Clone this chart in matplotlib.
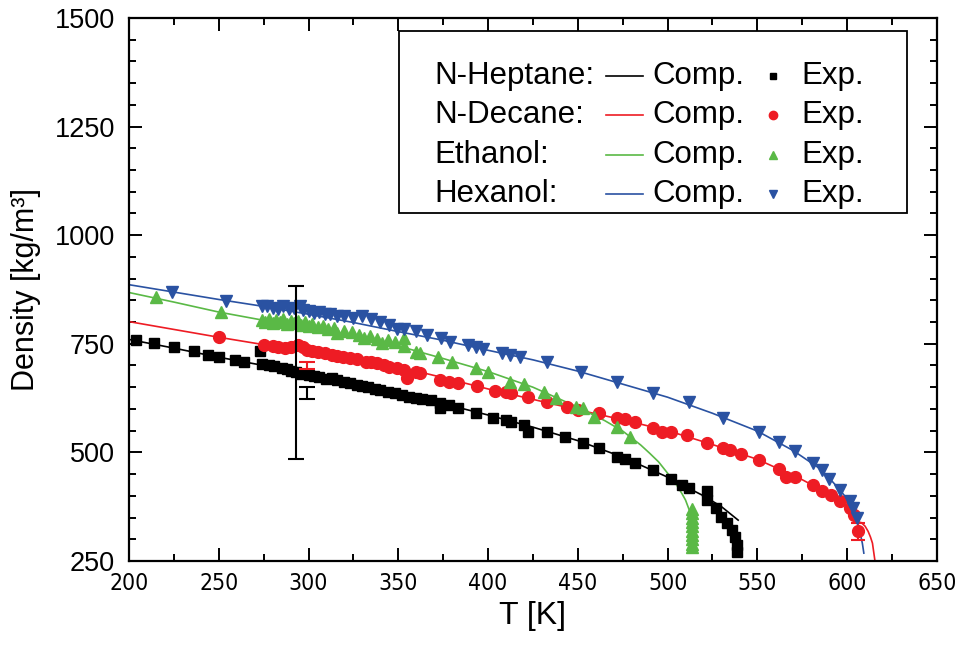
import matplotlib
matplotlib.use("Agg")
import matplotlib.pyplot as plt
from matplotlib.patches import Rectangle
from matplotlib.lines import Line2D
from matplotlib.ticker import MultipleLocator
from matplotlib import font_manager

plt.rcParams['font.family'] = ['Liberation Sans', 'DejaVu Sans']

# ---- computed density curves (T [K], rho [kg/m^3]) ----
hep_T_comp = [200, 225, 250, 275, 300, 325, 350, 375, 400, 425, 450, 475, 500, 510, 520, 530, 539.3]
hep_rho_comp = [760, 740, 719, 700, 680, 659, 636, 612, 586, 558, 527, 489, 443, 421, 400, 375, 344]

dec_T_comp = [200, 225, 250, 275, 300, 325, 350, 375, 400, 425, 450, 475, 500, 525, 550, 565, 575,
              585, 590, 595, 600, 603, 606.2, 608, 610, 611.7, 613, 614.1, 615.5, 616.2]
dec_rho_comp = [801, 783, 765, 748, 731, 714, 697, 672, 646, 622, 598, 575, 550, 518, 484, 456, 437,
                415, 403, 389, 375, 362, 340, 338, 330, 318, 305, 291, 250, 225]

eth_T_comp = [200, 225, 250, 275, 300, 325, 350, 375, 400, 425, 450, 465, 475, 485, 490, 495, 500,
              505, 508, 510, 512]
eth_rho_comp = [868, 846, 823, 804, 786, 766, 745, 716, 686, 650, 604, 573, 549, 517, 498, 478, 452,
                425, 405, 390, 368]

hex_T_comp = [200, 225, 250, 275, 300, 325, 350, 375, 400, 425, 450, 475, 500, 525, 550, 570,
              585, 590, 595, 600, 603, 605, 607, 608.5, 609.3]
hex_rho_comp = [886, 869, 852, 836, 818, 799, 778, 758, 735, 713, 687, 657, 627, 590, 549, 504,
                462, 441, 418, 393, 375, 352, 320, 290, 268]

# ---- experimental data ----
hep_T_exp = [204, 214, 225, 236, 244, 250, 259, 264, 273, 274, 278, 281, 285, 288, 290, 293, 296,
             300, 303, 306, 310, 313, 316, 320, 323, 327, 330, 333, 337, 340, 344, 348, 352, 356,
             360, 363, 368, 373, 373, 378, 383, 393, 403, 410, 413, 420, 422, 433, 443, 453, 462,
             472, 476, 482, 492, 502, 508, 512, 522, 522, 527, 530, 533, 536, 537.5, 538.4, 538.8]
hep_rho_exp = [759, 752, 743, 734, 724, 719, 713, 707, 734, 703, 700, 698, 695, 692, 688, 684, 680,
               678, 676, 673, 670, 672, 666, 662, 660, 656, 653, 650, 647, 644, 640, 636, 632, 628,
               625, 624, 620, 613, 602, 609, 602, 590, 578, 575, 571, 563, 548, 548, 535, 522, 509,
               490, 484, 475, 460, 438, 425, 417, 410, 390, 371, 352, 337, 322, 306, 287, 271]

dec_T_exp = [250, 275, 280, 283, 287, 290, 294, 297, 299, 302, 305, 309, 313, 316, 319, 323, 327,
             332, 335, 338, 342, 345, 349, 353, 355, 360, 362, 373, 378, 383, 394, 404, 410, 413,
             422, 433, 444, 450, 462, 472, 476, 482, 492, 497, 502, 511, 522, 531, 535, 541, 551,
             562, 566, 571, 581, 586, 591, 596, 601.5, 604]
dec_rho_exp = [765, 747, 745, 743, 740, 742, 747, 742, 736, 734, 732, 728, 724, 722, 720, 718, 716,
               709, 707, 705, 701, 697, 694, 690, 671, 684, 682, 667, 663, 659, 653, 642, 638, 636,
               627, 615, 604, 598, 590, 578, 576, 569, 556, 548, 548, 540, 522, 509, 506, 496, 482,
               462, 444, 444, 425, 410, 402, 387, 371, 356]

eth_T_exp = [215, 251, 274, 276, 278, 280, 282, 284, 286, 288, 290, 292, 294, 296, 298, 300, 302,
             305, 308, 311, 314, 316, 320, 324, 328, 331, 334, 338, 341, 344, 348, 353, 353, 360,
             362, 372, 380, 393, 400, 412, 420, 431, 438, 449, 453, 459, 472, 479,
             513.5, 513.5, 513.5, 513.5, 513.5, 513.5, 513.5, 513.5, 513.5, 513.5]
eth_rho_exp = [858, 822, 805, 800, 808, 798, 804, 800, 806, 796, 802, 797, 803, 793, 799, 790, 795,
               788, 792, 784, 787, 774, 780, 776, 770, 763, 768, 760, 751, 759, 753, 745, 763, 732,
               728, 720, 709, 694, 686, 663, 658, 640, 625, 605, 602, 582, 559, 536,
               370, 360, 350, 340, 330, 320, 310, 300, 290, 283]

hex_T_exp = [224, 254, 274, 277, 280, 283, 286, 289, 292, 295, 297, 300, 303, 306, 309, 312, 316,
             320, 325, 330, 335, 340, 345, 349, 353, 360, 366, 374, 379, 389, 393, 397, 408, 412,
             418, 433, 452, 472, 492, 512, 531, 551, 562, 571, 581, 586, 590, 596, 601.5, 603.4, 605.3]
hex_rho_exp = [869, 849, 837, 838, 833, 830, 836, 829, 833, 838, 827, 826, 821, 824, 818, 819, 815,
               813, 810, 814, 806, 800, 794, 783, 785, 780, 770, 763, 755, 747, 743, 737, 728, 724,
               719, 707, 684, 663, 636, 615, 579, 548, 525, 502, 476, 460, 438, 414, 387, 371, 348]

# points carrying measurement uncertainty
err_T = [293, 299, 299]
err_rho = [684, 636, 700]
err_size = [200, 14, 9]
err_color = ['black', 'black', '#ee1c24']
dec_err_T = [606]
dec_err_rho = [318]
dec_err_size = [20]

C_HEP = 'black'
C_DEC = '#ee1c24'
C_ETH = '#5ab946'
C_HEX = '#2a52a2'

fig = plt.figure(figsize=(9.57, 6.5), dpi=100)
ax = fig.add_axes([0.1348, 0.137, 0.979 - 0.1348, 0.9723 - 0.137])

lw = 1.2
ax.plot(hep_T_comp, hep_rho_comp, color=C_HEP, lw=lw, zorder=2)
ax.plot(hep_T_exp, hep_rho_exp, ls='none', marker='s', ms=7.5, color=C_HEP, mec=C_HEP, zorder=3)
ax.plot(dec_T_comp, dec_rho_comp, color=C_DEC, lw=lw, zorder=2)
ax.plot(dec_T_exp, dec_rho_exp, ls='none', marker='o', ms=8.5, color=C_DEC, mec=C_DEC, zorder=3)
ax.errorbar(dec_err_T, dec_err_rho, yerr=dec_err_size, fmt='o', ms=8.5, color=C_DEC,
            ecolor=C_DEC, elinewidth=1.5, capsize=5, capthick=1.5, zorder=3)
ax.plot(eth_T_comp, eth_rho_comp, color=C_ETH, lw=lw, zorder=2)
ax.plot(eth_T_exp, eth_rho_exp, ls='none', marker='^', ms=9, color=C_ETH, mec=C_ETH, zorder=3)
ax.plot(hex_T_comp, hex_rho_comp, color=C_HEX, lw=lw, zorder=2)
ax.plot(hex_T_exp, hex_rho_exp, ls='none', marker='v', ms=9, color=C_HEX, mec=C_HEX, zorder=3)

for t, r, e, c in zip(err_T, err_rho, err_size, err_color):
    ax.errorbar([t], [r], yerr=[e], fmt='none', ecolor=c, elinewidth=1.5,
                capsize=6, capthick=1.5, zorder=5)

ax.set_xlim(200, 650)
ax.set_ylim(250, 1500)
ax.xaxis.set_major_locator(MultipleLocator(50))
ax.xaxis.set_minor_locator(MultipleLocator(25))
ax.yaxis.set_major_locator(MultipleLocator(250))
ax.yaxis.set_minor_locator(MultipleLocator(50))
ax.tick_params(which='both', direction='in', top=True, right=True, width=1.4)
ax.tick_params(which='major', length=9.5)
ax.tick_params(which='minor', length=5)
ax.tick_params(axis='y', labelsize=19.5, pad=10)
ax.tick_params(axis='x', labelsize=16.5, pad=8)
for s in ax.spines.values():
    s.set_linewidth(1.6)

names = {f.name for f in font_manager.fontManager.ttflist}
if 'Liberation Sans Narrow' in names:
    xfam = ['Liberation Sans Narrow', 'DejaVu Sans']
    xstretch = 'normal'
else:
    xfam = ['DejaVu Sans', 'Liberation Sans']
    xstretch = 'condensed'
for lab in ax.get_xticklabels():
    lab.set_family(xfam)
    lab.set_stretch(xstretch)

ax.set_xlabel('T [K]', fontsize=23, labelpad=4)
ax.set_ylabel('Density [kg/m³]', fontsize=22, labelpad=10)

# legend box drawn in axes coordinates
tr = ax.transAxes
x0, x1 = (399 - 129) / 808, (907 - 129) / 808
y_top, y_bot = 1 - (31 - 18) / 543, 1 - (213 - 18) / 543
ax.add_patch(Rectangle((x0, y_bot), x1 - x0, y_top - y_bot, transform=tr, fill=True,
                       facecolor='white', edgecolor='black', lw=1.3, zorder=6))
rows = [('N-Heptane:', C_HEP, 's', 5), ('N-Decane:', C_DEC, 'o', 6),
        ('Ethanol:', C_ETH, '^', 6), ('Hexanol:', C_HEX, 'v', 6)]
row_y = [76, 115, 155, 194]
for (name, col, mk, ms), py in zip(rows, row_y):
    yy = 1 - (py - 18) / 543
    ax.text((434 - 129) / 808, yy, name, transform=tr, fontsize=22.5, va='center', ha='left', zorder=7)
    ax.add_line(Line2D([(606 - 129) / 808, (643 - 129) / 808], [yy, yy], transform=tr,
                       color=col, lw=1.2, zorder=7))
    ax.text((652 - 129) / 808, yy, 'Comp.', transform=tr, fontsize=22.5, va='center', ha='left', zorder=7)
    ax.add_line(Line2D([(773 - 129) / 808], [yy], transform=tr, ls='none', marker=mk,
                       ms=ms, color=col, mec=col, zorder=7))
    ax.text((801 - 129) / 808, yy, 'Exp.', transform=tr, fontsize=22.5, va='center', ha='left', zorder=7)

fig.savefig('out.png', dpi=100)
